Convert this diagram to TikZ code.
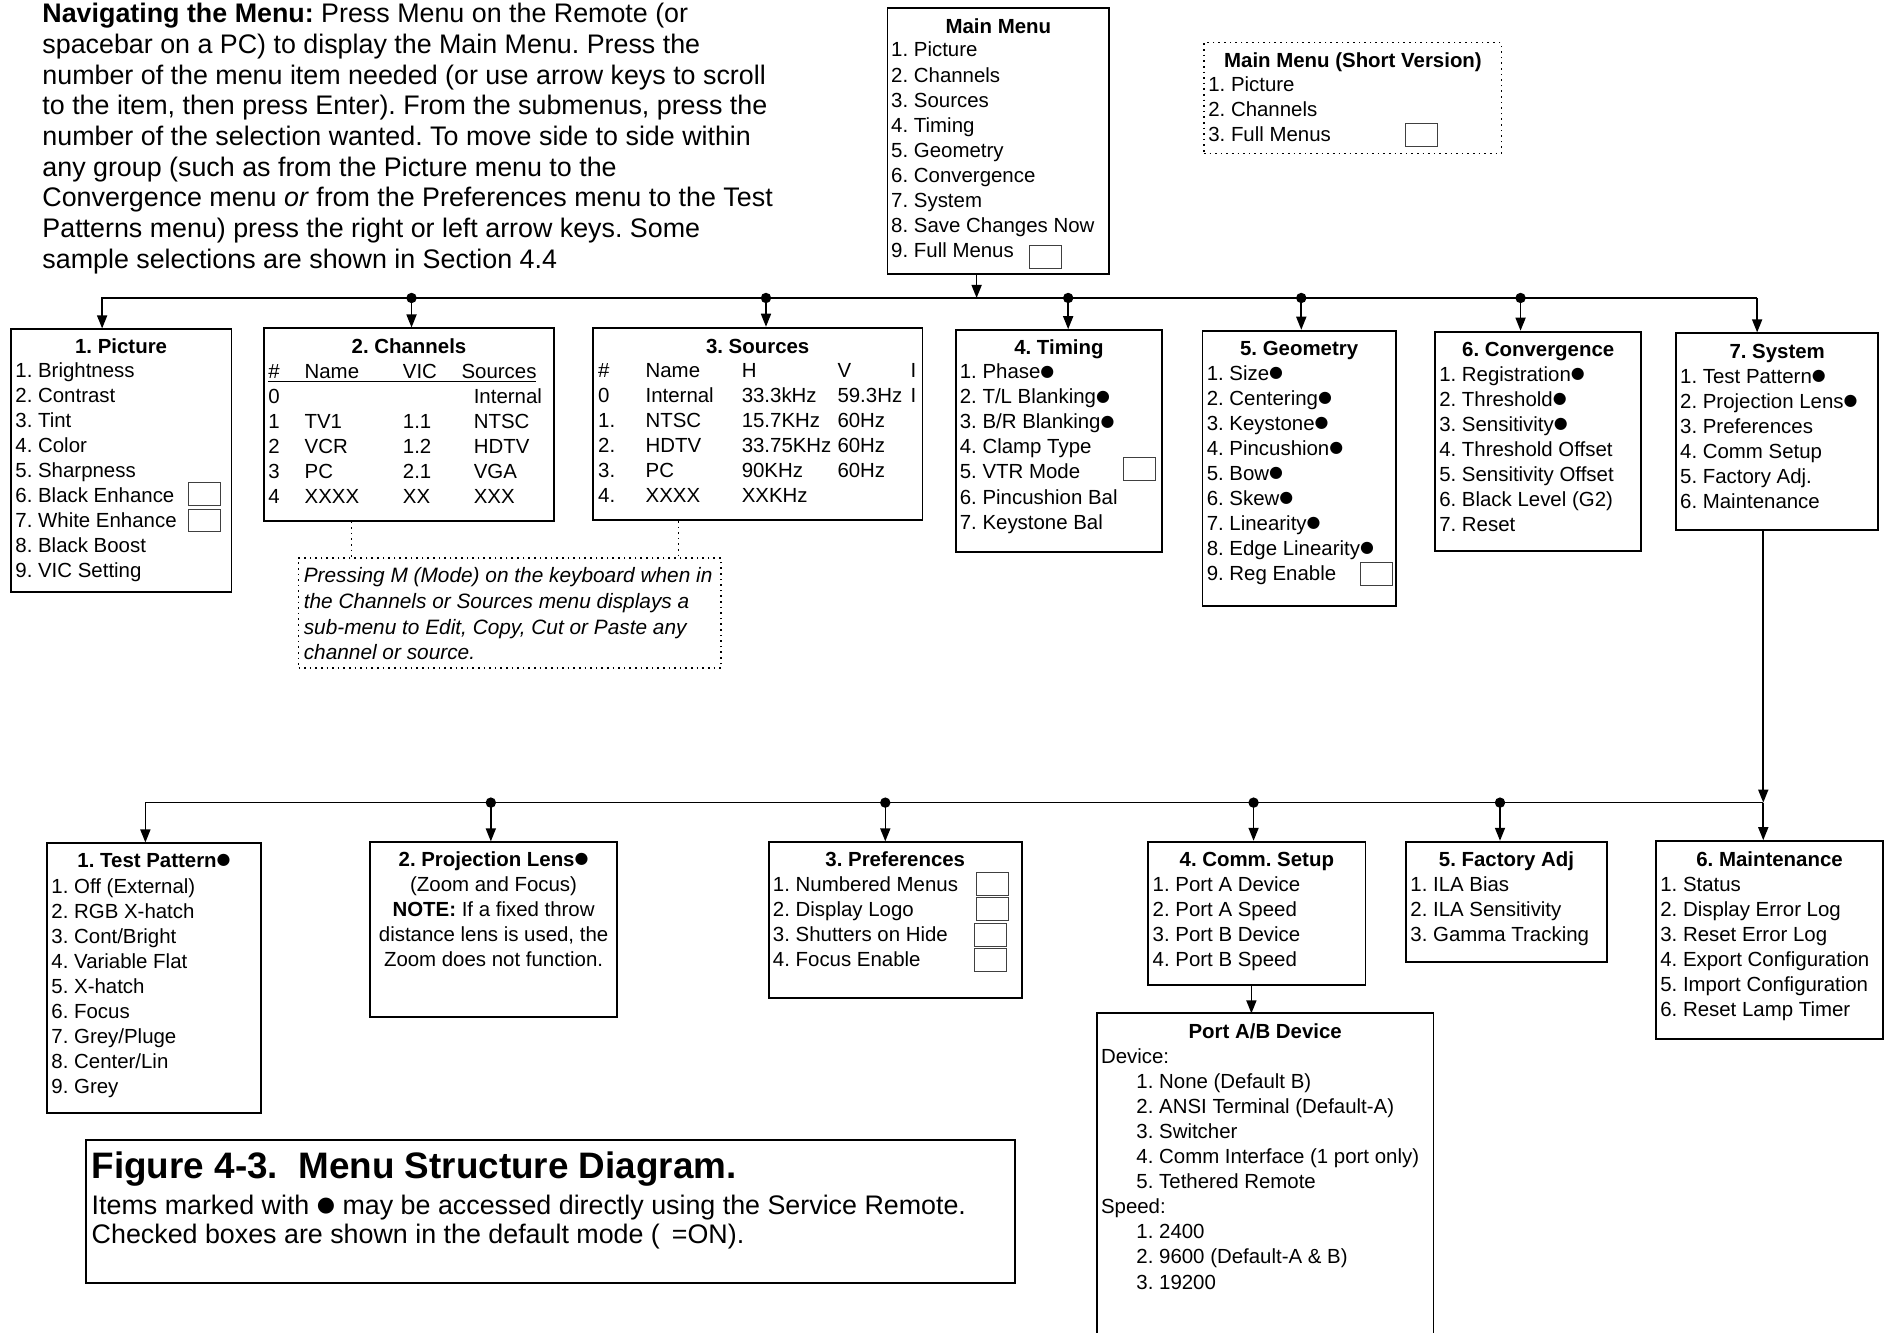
\documentclass[tikz,border=0pt]{standalone}
\usepackage{fontspec}
\setmainfont{Liberation Sans}
\newfontfamily\dotfont{DejaVu Sans}[Scale=0.78]
\newcommand{\dotmark}{\raisebox{1.4pt}{\dotfont ●}}
\frenchspacing
\usepackage{tikz}
\usetikzlibrary{arrows.meta,fit}

\tikzset{
  box/.style={draw, line width=0.9pt, inner sep=0pt},
  dotbox/.style={draw, dotted, line width=0.8pt, inner sep=0pt},
  head/.style={font=\fontsize{10.2}{12.5}\selectfont\bfseries, inner sep=0pt, anchor=base},
  items/.style={font=\fontsize{10.2}{12.5}\selectfont, inner sep=0pt, anchor=base west, align=left},
  para/.style={font=\fontsize{13.4}{15.3}\selectfont, inner sep=0pt, anchor=base west, align=left},
  chk/.style={draw=black!75, line width=0.5pt, minimum width=16pt, minimum height=11.4pt, inner sep=0pt},
  arr/.style={line width=0.8pt, -{Triangle[length=6.5pt,width=5pt]}},
}

\begin{document}
\begin{tikzpicture}[x=0.6pt, y=-0.6pt]
\useasboundingbox (0,0) rectangle (1568,1109);

\node[para] (intro) at (35,223.1) {\textbf{Navigating the Menu:} Press Menu on the Remote (or\\
spacebar on a PC) to display the Main Menu. Press the\\
number of the menu item needed (or use arrow keys to scroll\\
to the item, then press Enter). From the submenus, press the\\
number of the selection wanted. To move side to side within\\
any group (such as from the Picture menu to the\\
Convergence menu \textit{or} from the Preferences menu to the Test\\
Patterns menu) press the right or left arrow keys. Some\\
sample selections are shown in Section 4.4};

\node[box, fit={(738.6,6.9) (923.2,228)}] (main) {};
\node[head] (mainT) at (830.9,27.7) {Main Menu};
\node[items] (mainL) at (741.4,214.1) {1. Picture\\2. Channels\\3. Sources\\4. Timing\\5. Geometry\\6. Convergence\\7. System\\8. Save Changes Now\\9. Full Menus};
\node[chk] (mainC) at (870.5,214) {};

\node[dotbox, fit={(1002,35.5) (1249.6,127.6)}] (short) {};
\node[head] (shortT) at (1126,56) {Main Menu (Short Version)};
\node[items] (shortL) at (1005.3,117.9) {1. Picture\\2. Channels\\3. Full Menus};
\node[chk] (shortC) at (1183.3,112.3) {};

\node[box, fit={(8.9,274.1) (192.7,492.5)}] (pic) {};
\node[head] (picT) at (100.8,294.6) {1. Picture};
\node[items] (picL) at (12.5,480.5) {1. Brightness\\2. Contrast\\3. Tint\\4. Color\\5. Sharpness\\6. Black Enhance\\7. White Enhance\\8. Black Boost\\9. VIC Setting};
\node[chk] (picC6) at (170.5,411) {};
\node[chk] (picC7) at (170.5,433.2) {};

\node[box, fit={(219.8,273.3) (460.9,433.4)}] (chan) {};
\node[head] (chanT) at (340.4,294.6) {2. Channels};
\node[items] (chanNo) at (223,418.9) {\#\\0\\1\\2\\3\\4};
\node[items] (chanName) at (253.2,418.9) {Name\\~\\TV1\\VCR\\PC\\XXXX};
\node[items] (chanVic) at (335,418.9) {VIC\\~\\1.1\\1.2\\2.1\\XX};
\node[items] (chanSrcH) at (383.8,315.4) {Sources};
\node[items] (chanSrc) at (394,418.9) {Internal\\NTSC\\HDTV\\VGA\\XXX};
\draw[line width=0.6pt] (223,317.5) -- (446,317.5);

\node[box, fit={(493.6,272.7) (767.7,432.8)}] (src) {};
\node[head] (srcT) at (630.6,294) {3. Sources};
\node[items] (srcNo) at (497.5,418.1) {\#\\0\\1.\\2.\\3.\\4.};
\node[items] (srcName) at (537,418.1) {Name\\Internal\\NTSC\\HDTV\\PC\\XXXX};
\node[items] (srcH) at (617,418.1) {H\\33.3kHz\\15.7KHz\\33.75KHz\\90KHz\\XXKHz};
\node[items] (srcV) at (696.7,397.3) {V\\59.3Hz\\60Hz\\60Hz\\60Hz};
\node[items] (srcI) at (757.6,334.9) {I\\I};

\node[box, fit={(795.4,274.7) (967.2,459.7)}] (tim) {};
\node[head] (timT) at (881.3,295.1) {4. Timing};
\node[items] (timL) at (798.5,440.3) {1. Phase\dotmark\\2. T/L Blanking\dotmark\\3. B/R Blanking\dotmark\\4. Clamp Type\\5. VTR Mode\\6. Pincushion Bal\\7. Keystone Bal};
\node[chk] (timC) at (948.5,390.3) {};

\node[box, fit={(1000.8,275.2) (1161.5,504.4)}] (geo) {};
\node[head] (geoT) at (1081.2,296) {5. Geometry};
\node[items] (geoL) at (1004,483.3) {1. Size\dotmark\\2. Centering\dotmark\\3. Keystone\dotmark\\4. Pincushion\dotmark\\5. Bow\dotmark\\6. Skew\dotmark\\7. Linearity\dotmark\\8. Edge Linearity\dotmark\\9. Reg Enable};
\node[chk] (geoC) at (1145.5,477.9) {};

\node[box, fit={(1194.3,276) (1366,458.6)}] (conv) {};
\node[head] (convT) at (1280.2,296.8) {6. Convergence};
\node[items] (convL) at (1197.5,442.2) {1. Registration\dotmark\\2. Threshold\dotmark\\3. Sensitivity\dotmark\\4. Threshold Offset\\5. Sensitivity Offset\\6. Black Level (G2)\\7. Reset};

\node[box, fit={(1395,277.4) (1563.2,441.1)}] (sys) {};
\node[head] (sysT) at (1479.1,298.2) {7. System};
\node[items] (sysL) at (1398,423.1) {1. Test Pattern\dotmark\\2. Projection Lens\dotmark\\3. Preferences\\4. Comm Setup\\5. Factory Adj.\\6. Maintenance};

\node[dotbox, fit={(248.5,464.5) (600,556)}] (note) {};
\node[items, font=\fontsize{10.4}{12.8}\selectfont\itshape] (noteL) at (252.5,549.2) {Pressing M (Mode) on the keyboard when in\\the Channels or Sources menu displays a\\sub-menu to Edit, Copy, Cut or Paste any\\channel or source.};

\node[box, fit={(39,701.9) (217.4,926.1)}] (test) {};
\node[head] (testT) at (128.2,721.9) {1. Test Pattern\dotmark};
\node[items] (testL) at (42.5,910) {1. Off (External)\\2. RGB X-hatch\\3. Cont/Bright\\4. Variable Flat\\5. X-hatch\\6. Focus\\7. Grey/Pluge\\8. Center/Lin\\9. Grey};

\node[box, fit={(307.9,701) (513.8,846.7)}] (lens) {};
\node[items, anchor=base, align=center] (lensL) at (410.8,804.5) {\textbf{2. Projection Lens\dotmark}\\(Zoom and Focus)\\\textbf{NOTE:} If a fixed throw\\distance lens is used, the\\Zoom does not function.};

\node[box, fit={(639.7,701) (850.6,830.4)}] (pref) {};
\node[head] (prefT) at (745.1,721.1) {3. Preferences};
\node[items] (prefL) at (643,804.3) {1. Numbered Menus\\2. Display Logo\\3. Shutters on Hide\\4. Focus Enable};
\node[chk] (prefC1) at (826,736) {};
\node[chk] (prefC2) at (826,756.4) {};
\node[chk] (prefC3) at (824.5,778) {};
\node[chk] (prefC4) at (824.5,799) {};

\node[box, fit={(955.6,700.5) (1136.4,819.8)}] (comm) {};
\node[head] (commT) at (1046,721.1) {4. Comm. Setup};
\node[items] (commL) at (959,804.3) {1. Port A Device\\2. Port A Speed\\3. Port B Device\\4. Port B Speed};

\node[box, fit={(1170,700.5) (1337.5,800.9)}] (fact) {};
\node[head] (factT) at (1253.8,721.1) {5. Factory Adj};
\node[items] (factL) at (1173.5,783.4) {1. ILA Bias\\2. ILA Sensitivity\\3. Gamma Tracking};

\node[box, fit={(1378.3,700) (1567,864.8)}] (maint) {};
\node[head] (maintT) at (1472.7,721.1) {6. Maintenance};
\node[items] (maintL) at (1381.5,845.9) {1. Status\\2. Display Error Log\\3. Reset Error Log\\4. Export Configuration\\5. Import Configuration\\6. Reset Lamp Timer};

\node[box, fit={(912.8,843.4) (1193,1120)}] (port) {};
\node[head] (portT) at (1053,863.9) {Port A/B Device};
\node[items] (portL) at (916,1072.8) {Device:\\
\hspace*{17.7pt}1. None (Default B)\\
\hspace*{17.7pt}2. ANSI Terminal (Default-A)\\
\hspace*{17.7pt}3. Switcher\\
\hspace*{17.7pt}4. Comm Interface (1 port only)\\
\hspace*{17.7pt}5. Tethered Remote\\
Speed:\\
\hspace*{17.7pt}1. 2400\\
\hspace*{17.7pt}2. 9600 (Default-A \& B)\\
\hspace*{17.7pt}3. 19200};

\node[box, fit={(71.8,948.8) (844.8,1067.6)}] (cap) {};
\node[items, font=\fontsize{18.4}{20}\selectfont\bfseries] (capT) at (76,981) {Figure 4-3.\ \ Menu Structure Diagram.};
\node[items, font=\fontsize{13.4}{14.7}\selectfont] (capL) at (76,1035) {Items marked with \dotmark{} may be accessed directly using the Service Remote.\\Checked boxes are shown in the default mode (\hspace{6pt}=ON).};

\coordinate (mainBus) at (812.8,248);
\coordinate (b1) at (85,248);
\coordinate (b2) at (342.5,248);
\coordinate (b3) at (637.5,248);
\coordinate (b4) at (889,248);
\coordinate (b5) at (1083,248);
\coordinate (b6) at (1265.5,248);
\coordinate (b7) at (1462.4,248);
\coordinate (c1) at (121,668);
\coordinate (c2) at (408.5,668);
\coordinate (c3) at (736.8,668);
\coordinate (c4) at (1043.3,668);
\coordinate (c5) at (1248.4,668);
\coordinate (c6) at (1467.5,668);
\coordinate (portIn) at (1041.5,843.4);
\coordinate (n1) at (292.4,500);
\coordinate (n2) at (564.7,500);

\draw[arr] (main.south -| mainBus) -- (mainBus);
\draw[arr] (b7) -- (b1) -- (b1 |- pic.north);
\draw[arr] (b7) -- (b7 |- sys.north);
\draw[arr] (b2) -- (b2 |- chan.north);
\draw[arr] (b3) -- (b3 |- src.north);
\draw[arr] (b4) -- (b4 |- tim.north);
\draw[arr] (b5) -- (b5 |- geo.north);
\draw[arr] (b6) -- (b6 |- conv.north);
\fill (b2) circle[radius=2.6pt];
\fill (b3) circle[radius=2.6pt];
\fill (b4) circle[radius=2.6pt];
\fill (b5) circle[radius=2.6pt];
\fill (b6) circle[radius=2.6pt];

\draw[dotted, line width=0.8pt] (chan.south -| n1) -- (note.north -| n1);
\draw[dotted, line width=0.8pt] (src.south -| n2) -- (note.north -| n2);

\draw[arr] (sys.south -| c6) -- (c6);
\draw[arr] (c6) -- (c1) -- (c1 |- test.north);
\draw[arr] (c6) -- (c6 |- maint.north);
\draw[arr] (c2) -- (c2 |- lens.north);
\draw[arr] (c3) -- (c3 |- pref.north);
\draw[arr] (c4) -- (c4 |- comm.north);
\draw[arr] (c5) -- (c5 |- fact.north);
\fill (c2) circle[radius=2.6pt];
\fill (c3) circle[radius=2.6pt];
\fill (c4) circle[radius=2.6pt];
\fill (c5) circle[radius=2.6pt];

\draw[arr] (comm.south -| portIn) -- (portIn);
\end{tikzpicture}
\end{document}
